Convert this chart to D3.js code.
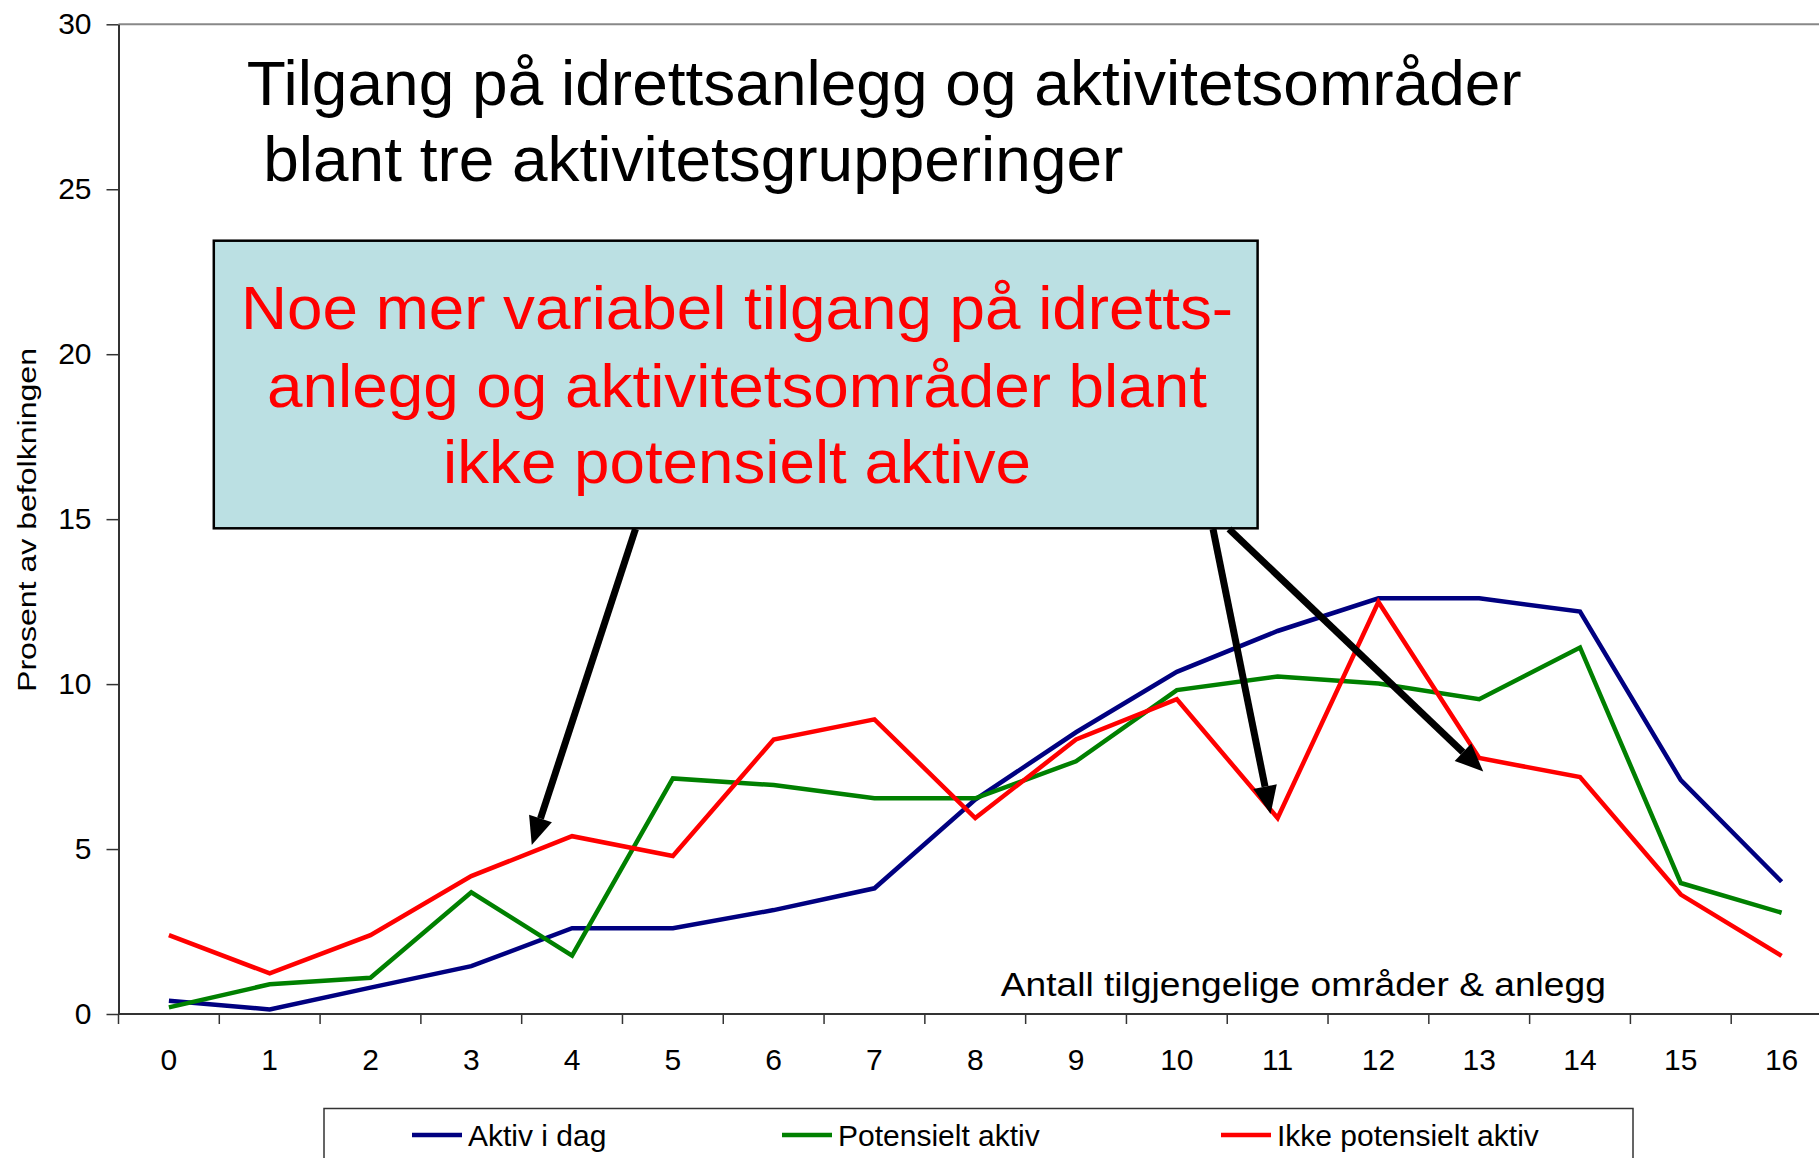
<!DOCTYPE html>
<html>
<head>
<meta charset="utf-8">
<script src="https://cdn.jsdelivr.net/npm/d3@7"></script>
<style>
  body { margin: 0; background: #fff; }
  svg { display: block; font-family: "Liberation Sans", Arial, sans-serif; }
</style>
</head>
<body>
<svg id="chart"></svg>
<script>
// categories on the x axis (number of available areas)
var categories = ["0", "1", "2", "3", "4", "5", "6", "7", "8", "9", "10", "11", "12", "13", "14", "15", "16"];

// percent of population
var aktivIDag = [0.4, 0.14, 0.8, 1.45, 2.6, 2.6, 3.15, 3.81, 6.5, 8.54, 10.37, 11.61, 12.6, 12.6, 12.2, 7.09, 4.01];
var potensieltAktiv = [0.2, 0.9, 1.1, 3.69, 1.77, 7.14, 6.94, 6.54, 6.54, 7.66, 9.82, 10.23, 10.02, 9.54, 11.11, 3.97, 3.07];
var ikkePotensieltAktiv = [2.39, 1.23, 2.39, 4.18, 5.39, 4.79, 8.32, 8.93, 5.94, 8.32, 9.54, 5.94, 12.49, 7.76, 7.18, 3.62, 1.76];

var seriesNames = ["Aktiv i dag", "Potensielt aktiv", "Ikke potensielt aktiv"];
var seriesColors = ["#000080", "#008000", "#ff0000"];

var yTicks = [0, 5, 10, 15, 20, 25, 30];

var titleLines = ["Tilgang på idrettsanlegg og aktivitetsområder", "blant tre aktivitetsgrupperinger"];
var noteLines = ["Noe mer variabel tilgang på idretts-", "anlegg og aktivitetsområder blant", "ikke potensielt aktive"];

// where the arrows point, in data units [category index, percent]
var arrowTargets = [[3.6, 5.12], [10.93, 6.06], [13.04, 7.35]];

var width = 1819, height = 1158;
var svg = d3.select("#chart").attr("width", width).attr("height", height);

// plot area runs past the right edge, like the cropped original
var x = d3.scaleBand().domain(categories).range([118.5, 1832]).padding(0);
var y = d3.scaleLinear().domain([0, 30]).range([1014, 24.3]);
var xPos = d3.scaleLinear().domain([0, categories.length]).range([118.5, 1832]);
var cx = function (c) { return x(c) + x.bandwidth() / 2; };

// top frame line
svg.append("line")
  .attr("x1", 118.5).attr("x2", width)
  .attr("y1", y(30)).attr("y2", y(30))
  .attr("stroke", "#888").attr("stroke-width", 2);

// y axis
var yAxis = svg.append("g")
  .attr("transform", "translate(118.5,0)")
  .call(d3.axisLeft(y).tickValues(yTicks).tickSize(12).tickPadding(15).tickSizeOuter(0));
yAxis.select(".domain").attr("stroke", "#333").attr("stroke-width", 2);
yAxis.selectAll(".tick line").attr("stroke", "#333").attr("stroke-width", 1.5);
yAxis.selectAll(".tick text").attr("font-size", 30).attr("fill", "#000")
  .attr("font-family", "Liberation Sans, Arial, sans-serif");

// x axis: line, ticks between categories, labels under centers
svg.append("line")
  .attr("x1", 118.5).attr("x2", width)
  .attr("y1", y(0)).attr("y2", y(0))
  .attr("stroke", "#333").attr("stroke-width", 2);

svg.append("g").selectAll("line")
  .data(d3.range(0, categories.length + 1))
  .join("line")
  .attr("x1", d => xPos(d)).attr("x2", d => xPos(d))
  .attr("y1", y(0)).attr("y2", y(0) + 10)
  .attr("stroke", "#333").attr("stroke-width", 1.5);

svg.append("g").selectAll("text")
  .data(categories)
  .join("text")
  .attr("x", d => cx(d))
  .attr("y", 1070)
  .attr("text-anchor", "middle")
  .attr("font-size", 30)
  .text(d => d);

// y axis title
svg.append("text")
  .attr("transform", "translate(35.5,520) rotate(-90)")
  .attr("text-anchor", "middle")
  .attr("font-size", 26)
  .attr("textLength", 344)
  .attr("lengthAdjust", "spacingAndGlyphs")
  .text("Prosent av befolkningen");

// x axis title, sits inside the plot
svg.append("text")
  .attr("x", 1000.8).attr("y", 996.3)
  .attr("font-size", 34)
  .attr("textLength", 605)
  .attr("lengthAdjust", "spacingAndGlyphs")
  .text("Antall tilgjengelige områder & anlegg");

// the three lines
var line = d3.line()
  .x((d, i) => cx(categories[i]))
  .y(d => y(d));

[aktivIDag, potensieltAktiv, ikkePotensieltAktiv].forEach(function (vals, i) {
  svg.append("path")
    .datum(vals)
    .attr("d", line)
    .attr("fill", "none")
    .attr("stroke", seriesColors[i])
    .attr("stroke-width", 4.5)
    .attr("stroke-linejoin", "miter");
});

// chart title
var titleX = [246.7, 263.3], titleY = [105, 180.7], titleW = [1275, 860];
titleLines.forEach(function (t, i) {
  svg.append("text")
    .attr("x", titleX[i]).attr("y", titleY[i])
    .attr("font-size", 63)
    .attr("textLength", titleW[i])
    .attr("lengthAdjust", "spacingAndGlyphs")
    .text(t);
});

// annotation box
svg.append("rect")
  .attr("x", 213.8).attr("y", 240.7)
  .attr("width", 1257.6 - 213.8).attr("height", 528.3 - 240.7)
  .attr("fill", "#bbe0e3")
  .attr("stroke", "#000").attr("stroke-width", 2.5);

var noteY = [329.3, 406.7, 483.3], noteW = [992, 940, 588];
noteLines.forEach(function (t, i) {
  svg.append("text")
    .attr("x", 737).attr("y", noteY[i])
    .attr("text-anchor", "middle")
    .attr("font-size", 62)
    .attr("fill", "#ff0000")
    .attr("textLength", noteW[i])
    .attr("lengthAdjust", "spacingAndGlyphs")
    .text(t);
});

// arrows from the box down to the red line
var arrowStarts = [[635.5, 529], [1213, 529], [1229, 529]];
arrowTargets.forEach(function (t, i) {
  var x0 = arrowStarts[i][0], y0 = arrowStarts[i][1];
  var x1 = xPos(t[0] + 0.5), y1 = y(t[1]);
  var ang = Math.atan2(y1 - y0, x1 - x0);
  var headLen = 28, headW = 12;
  var bx = x1 - headLen * Math.cos(ang), by = y1 - headLen * Math.sin(ang);
  svg.append("line")
    .attr("x1", x0).attr("y1", y0)
    .attr("x2", bx).attr("y2", by)
    .attr("stroke", "#000").attr("stroke-width", 7);
  var px = -Math.sin(ang) * headW, py = Math.cos(ang) * headW;
  svg.append("path")
    .attr("d", "M" + x1 + "," + y1 + " L" + (bx + px) + "," + (by + py) + " L" + (bx - px) + "," + (by - py) + " Z")
    .attr("fill", "#000");
});

// legend
svg.append("rect")
  .attr("x", 324).attr("y", 1108.5)
  .attr("width", 1633 - 324).attr("height", 80)
  .attr("fill", "#fff")
  .attr("stroke", "#333").attr("stroke-width", 1.5);

var legendX = [412, 782, 1221];
seriesNames.forEach(function (name, i) {
  svg.append("line")
    .attr("x1", legendX[i]).attr("x2", legendX[i] + 50)
    .attr("y1", 1135).attr("y2", 1135)
    .attr("stroke", seriesColors[i]).attr("stroke-width", 4.5);
  svg.append("text")
    .attr("x", legendX[i] + 56).attr("y", 1146)
    .attr("font-size", 30)
    .text(name);
});
</script>
</body>
</html>
